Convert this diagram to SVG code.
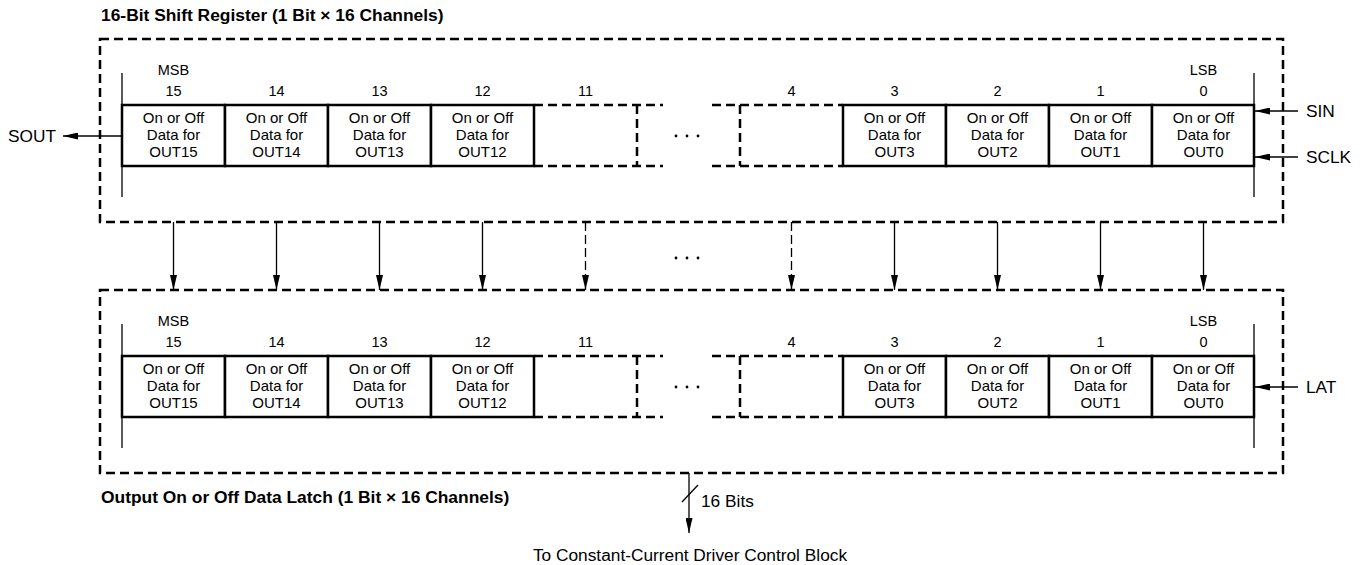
<svg xmlns="http://www.w3.org/2000/svg" width="1366" height="565" viewBox="0 0 1366 565">
<defs>
<marker id="ah" viewBox="0 0 15 7" refX="15" refY="3.5" markerWidth="15" markerHeight="7" markerUnits="userSpaceOnUse" orient="auto"><path d="M0,0 L15,3.5 L0,7 Z" fill="#000"/></marker>
</defs>
<style>
text{font-family:"Liberation Sans",Arial,sans-serif;fill:#000}
.t{font-size:17.4px;font-weight:bold}
.c{font-size:15px;text-anchor:middle}
.n{font-size:14.5px;text-anchor:middle}
.s{font-size:17.3px}
.box{fill:none;stroke:#000;stroke-width:2.5;stroke-dasharray:9 5}
.cell{fill:#fff;stroke:#000;stroke-width:2.5}
.dl{fill:none;stroke:#000;stroke-width:2.5;stroke-dasharray:9 5}
.rail{stroke:#000;stroke-width:1.3}
.ar{stroke:#000;stroke-width:1.3;fill:none;marker-end:url(#ah)}
.ard{stroke:#000;stroke-width:1.3;fill:none;stroke-dasharray:9 4;marker-end:url(#ah)}
</style>
<rect width="1366" height="565" fill="#fff"/>

<g id="shift-register">
<text class="t" x="101" y="21">16-Bit Shift Register (1 Bit × 16 Channels)</text>
<rect class="box" x="100" y="39" width="1183" height="183"/>
<line class="rail" x1="122" y1="73" x2="122" y2="197"/>
<line class="rail" x1="1254" y1="73" x2="1254" y2="197"/>
<text class="n" x="173.5" y="74.5">MSB</text>
<text class="n" x="1203.5" y="74.5">LSB</text>
<text class="n" x="173.5" y="95.5">15</text>
<text class="n" x="276.5" y="95.5">14</text>
<text class="n" x="379.5" y="95.5">13</text>
<text class="n" x="482.5" y="95.5">12</text>
<text class="n" x="585.5" y="95.5">11</text>
<text class="n" x="791.5" y="95.5">4</text>
<text class="n" x="894.5" y="95.5">3</text>
<text class="n" x="997.5" y="95.5">2</text>
<text class="n" x="1100.5" y="95.5">1</text>
<text class="n" x="1203.5" y="95.5">0</text>
<g id="sr-bit15"><rect class="cell" x="122" y="105" width="103" height="61"/><text class="c" x="173.5" y="123">On or Off</text><text class="c" x="173.5" y="140">Data for</text><text class="c" x="173.5" y="157">OUT15</text></g>
<g id="sr-bit14"><rect class="cell" x="225" y="105" width="103" height="61"/><text class="c" x="276.5" y="123">On or Off</text><text class="c" x="276.5" y="140">Data for</text><text class="c" x="276.5" y="157">OUT14</text></g>
<g id="sr-bit13"><rect class="cell" x="328" y="105" width="103" height="61"/><text class="c" x="379.5" y="123">On or Off</text><text class="c" x="379.5" y="140">Data for</text><text class="c" x="379.5" y="157">OUT13</text></g>
<g id="sr-bit12"><rect class="cell" x="431" y="105" width="103" height="61"/><text class="c" x="482.5" y="123">On or Off</text><text class="c" x="482.5" y="140">Data for</text><text class="c" x="482.5" y="157">OUT12</text></g>
<g id="sr-bit11"><path class="dl" d="M534,105 H663 M534,166 H663 M637,105 V166"/></g>
<g id="sr-dots"><circle cx="676" cy="136" r="1.4"/><circle cx="687" cy="136" r="1.4"/><circle cx="698" cy="136" r="1.4"/></g>
<g id="sr-bit4"><path class="dl" d="M712,105 H843 M712,166 H843 M740,105 V166"/></g>
<g id="sr-bit3"><rect class="cell" x="843" y="105" width="103" height="61"/><text class="c" x="894.5" y="123">On or Off</text><text class="c" x="894.5" y="140">Data for</text><text class="c" x="894.5" y="157">OUT3</text></g>
<g id="sr-bit2"><rect class="cell" x="946" y="105" width="103" height="61"/><text class="c" x="997.5" y="123">On or Off</text><text class="c" x="997.5" y="140">Data for</text><text class="c" x="997.5" y="157">OUT2</text></g>
<g id="sr-bit1"><rect class="cell" x="1049" y="105" width="103" height="61"/><text class="c" x="1100.5" y="123">On or Off</text><text class="c" x="1100.5" y="140">Data for</text><text class="c" x="1100.5" y="157">OUT1</text></g>
<g id="sr-bit0"><rect class="cell" x="1152" y="105" width="102" height="61"/><text class="c" x="1203.5" y="123">On or Off</text><text class="c" x="1203.5" y="140">Data for</text><text class="c" x="1203.5" y="157">OUT0</text></g>
</g>

<g id="latch">
<rect class="box" x="100" y="290" width="1183" height="183"/>
<line class="rail" x1="122" y1="324" x2="122" y2="448"/>
<line class="rail" x1="1254" y1="324" x2="1254" y2="448"/>
<text class="n" x="173.5" y="325.5">MSB</text>
<text class="n" x="1203.5" y="325.5">LSB</text>
<text class="n" x="173.5" y="346.5">15</text>
<text class="n" x="276.5" y="346.5">14</text>
<text class="n" x="379.5" y="346.5">13</text>
<text class="n" x="482.5" y="346.5">12</text>
<text class="n" x="585.5" y="346.5">11</text>
<text class="n" x="791.5" y="346.5">4</text>
<text class="n" x="894.5" y="346.5">3</text>
<text class="n" x="997.5" y="346.5">2</text>
<text class="n" x="1100.5" y="346.5">1</text>
<text class="n" x="1203.5" y="346.5">0</text>
<g id="la-bit15"><rect class="cell" x="122" y="356" width="103" height="61"/><text class="c" x="173.5" y="374">On or Off</text><text class="c" x="173.5" y="391">Data for</text><text class="c" x="173.5" y="408">OUT15</text></g>
<g id="la-bit14"><rect class="cell" x="225" y="356" width="103" height="61"/><text class="c" x="276.5" y="374">On or Off</text><text class="c" x="276.5" y="391">Data for</text><text class="c" x="276.5" y="408">OUT14</text></g>
<g id="la-bit13"><rect class="cell" x="328" y="356" width="103" height="61"/><text class="c" x="379.5" y="374">On or Off</text><text class="c" x="379.5" y="391">Data for</text><text class="c" x="379.5" y="408">OUT13</text></g>
<g id="la-bit12"><rect class="cell" x="431" y="356" width="103" height="61"/><text class="c" x="482.5" y="374">On or Off</text><text class="c" x="482.5" y="391">Data for</text><text class="c" x="482.5" y="408">OUT12</text></g>
<g id="la-bit11"><path class="dl" d="M534,356 H663 M534,417 H663 M637,356 V417"/></g>
<g id="la-dots"><circle cx="676" cy="387" r="1.4"/><circle cx="687" cy="387" r="1.4"/><circle cx="698" cy="387" r="1.4"/></g>
<g id="la-bit4"><path class="dl" d="M712,356 H843 M712,417 H843 M740,356 V417"/></g>
<g id="la-bit3"><rect class="cell" x="843" y="356" width="103" height="61"/><text class="c" x="894.5" y="374">On or Off</text><text class="c" x="894.5" y="391">Data for</text><text class="c" x="894.5" y="408">OUT3</text></g>
<g id="la-bit2"><rect class="cell" x="946" y="356" width="103" height="61"/><text class="c" x="997.5" y="374">On or Off</text><text class="c" x="997.5" y="391">Data for</text><text class="c" x="997.5" y="408">OUT2</text></g>
<g id="la-bit1"><rect class="cell" x="1049" y="356" width="103" height="61"/><text class="c" x="1100.5" y="374">On or Off</text><text class="c" x="1100.5" y="391">Data for</text><text class="c" x="1100.5" y="408">OUT1</text></g>
<g id="la-bit0"><rect class="cell" x="1152" y="356" width="102" height="61"/><text class="c" x="1203.5" y="374">On or Off</text><text class="c" x="1203.5" y="391">Data for</text><text class="c" x="1203.5" y="408">OUT0</text></g>
<text class="t" x="101" y="503">Output On or Off Data Latch (1 Bit × 16 Channels)</text>
</g>

<g id="signals">
<text class="s" x="56" y="142" text-anchor="end">SOUT</text>
<text class="s" x="1306" y="117">SIN</text>
<text class="s" x="1306" y="163">SCLK</text>
<text class="s" x="1306" y="393">LAT</text>
<text class="s" x="701" y="507">16 Bits</text>
<text class="s" x="690" y="561" text-anchor="middle">To Constant-Current Driver Control Block</text>
</g>

<g id="connectors">
<line class="ar" x1="122" y1="136" x2="63" y2="136"/>
<line class="ar" x1="1298" y1="111" x2="1255" y2="111"/>
<line class="ar" x1="1298" y1="157" x2="1255" y2="157"/>
<line class="ar" x1="1298" y1="387" x2="1255" y2="387"/>
<line class="ar" x1="173.5" y1="222" x2="173.5" y2="290"/>
<line class="ar" x1="276.5" y1="222" x2="276.5" y2="290"/>
<line class="ar" x1="379.5" y1="222" x2="379.5" y2="290"/>
<line class="ar" x1="482.5" y1="222" x2="482.5" y2="290"/>
<line class="ard" x1="585.5" y1="222" x2="585.5" y2="290"/>
<line class="ard" x1="791.5" y1="222" x2="791.5" y2="290"/>
<line class="ar" x1="894.5" y1="222" x2="894.5" y2="290"/>
<line class="ar" x1="997.5" y1="222" x2="997.5" y2="290"/>
<line class="ar" x1="1100.5" y1="222" x2="1100.5" y2="290"/>
<line class="ar" x1="1203.5" y1="222" x2="1203.5" y2="290"/>
<g id="between-dots"><circle cx="676" cy="258" r="1.4"/><circle cx="687" cy="258" r="1.4"/><circle cx="698" cy="258" r="1.4"/></g>
<line class="ar" x1="689" y1="473" x2="689" y2="533"/>
<line stroke="#000" stroke-width="1.3" x1="682" y1="502" x2="698" y2="485"/>
</g>
</svg>
